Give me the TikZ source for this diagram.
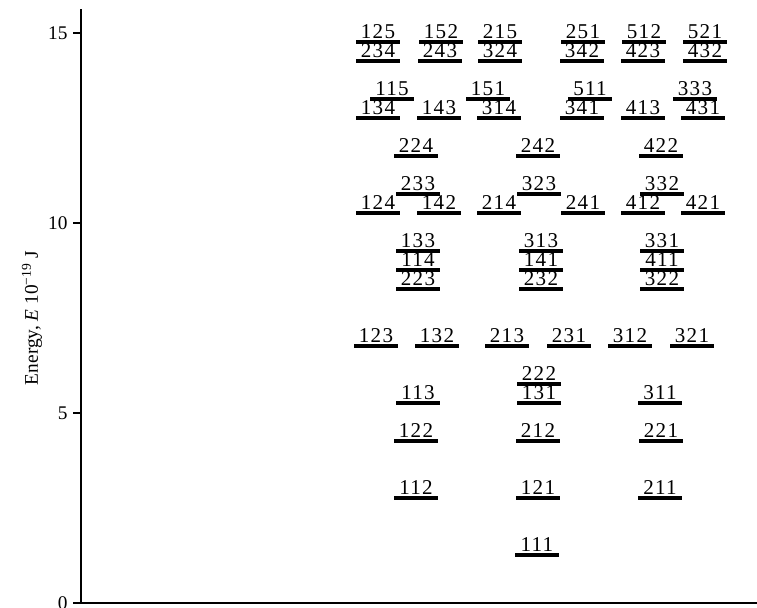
\documentclass[tikz,border=0pt]{standalone}
\usepackage{fontspec}
\setmainfont{Liberation Serif}
\newfontfamily\levelfont[LetterSpace=6]{Liberation Serif}
\usepackage{tikz}

\begin{document}
\begin{tikzpicture}[x=0.02cm, y=0.76cm,
  level/.style={anchor=south, inner xsep=0pt, inner ysep=1.9pt, minimum width=0.86cm, font=\levelfont\fontsize{12}{14}\selectfont},
  levelline/.style={line width=1.9pt},
  axisline/.style={line width=1.2pt}]
  \useasboundingbox (0,-0.1316) rectangle (757,15.868);
  % axes
  \coordinate (top) at (81,15.63); \coordinate (origin) at (81,0); \coordinate (xend) at (757,0);
  \draw[axisline] (top) -- (origin) -- (xend);
  \foreach \e in {0,5,10,15}
    \draw[axisline] (81,\e) -- (73,\e) node[anchor=east, inner xsep=2.5pt, font=\fontsize{11}{13}\selectfont] (t\e) {\e};
  \node[rotate=90, font=\fontsize{11}{13}\selectfont] (elabel) at (32,7.5) {Energy, \textit{E} 10\textsuperscript{\char"2212 19} J};
  % levels: height from n1^2+n2^2+n3^2
  \foreach \lab/\x in {111/537,
      112/416, 121/538, 211/660,
      122/416, 212/538, 221/661,
      113/418, 131/539, 311/660, 222/539,
      123/376, 132/437, 213/507, 231/569, 312/630, 321/692,
      223/418, 232/541, 322/662, 114/418, 141/541, 411/662, 133/418, 313/541, 331/662,
      124/378, 142/439, 214/499, 241/583, 412/643, 421/703,
      233/418, 323/539, 332/662, 224/416, 242/538, 422/661,
      134/378, 143/439, 314/499, 341/582, 413/643, 431/703,
      115/392, 151/488, 511/590, 333/695,
      234/378, 243/440, 324/500, 342/582, 423/643, 432/705,
      125/378, 152/441, 215/500, 251/583, 512/644, 521/705} {
    \pgfmathsetmacro{\lev}{0.5*(int(\lab/100)^2 + mod(int(\lab/10),10)^2 + mod(\lab,10)^2) - 0.24}
    \node[level] (l\lab) at (\x,\lev) {\lab};
    \draw[levelline] (l\lab.south west) -- (l\lab.south east);
  }
\end{tikzpicture}
\end{document}
